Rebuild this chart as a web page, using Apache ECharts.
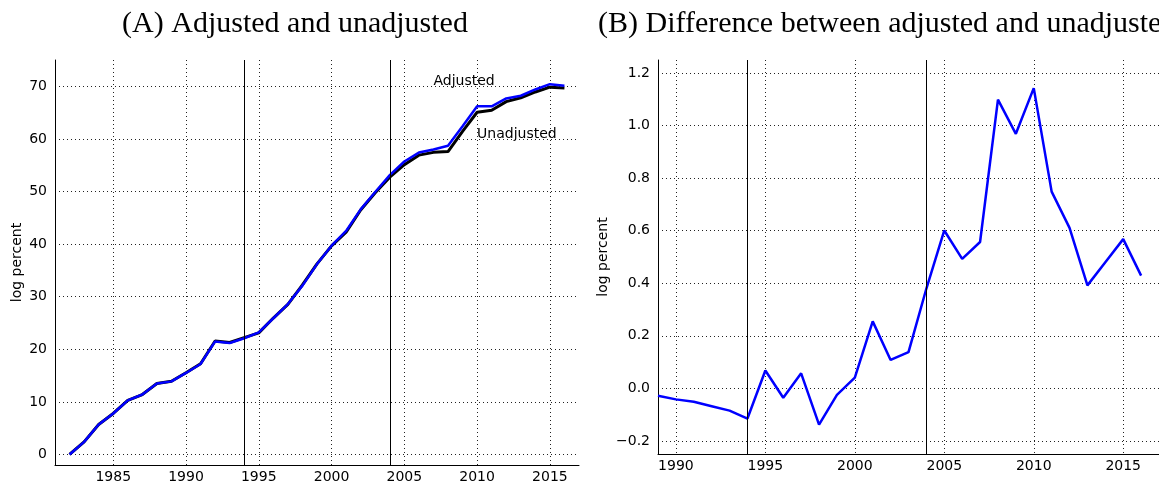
<!DOCTYPE html>
<html><head><meta charset="utf-8">
<script src="https://cdn.jsdelivr.net/npm/echarts@6/dist/echarts.min.js"></script>
<style>html,body{margin:0;padding:0;background:#fff}#c{width:1159px;height:484px}</style>
</head><body><div id="c"></div>
<script>
// ---- data ----
const years = [1982,1983,1984,1985,1986,1987,1988,1989,1990,1991,1992,1993,1994,1995,1996,1997,1998,1999,2000,2001,2002,2003,2004,2005,2006,2007,2008,2009,2010,2011,2012,2013,2014,2015,2016];
const adjusted = [0,2.4,5.7,7.8,10.3,11.4,13.5,13.9,15.5,17.2,21.5,21.2,22.1,23.2,25.9,28.6,32.1,36.2,39.7,42.5,46.6,49.9,53.1,55.7,57.4,58.0,58.7,62.4,66.2,66.2,67.7,68.2,69.4,70.4,70.1];
const unadjusted = [0,2.4,5.7,7.8,10.3,11.4,13.5,13.93,15.54,17.25,21.57,21.29,22.22,23.13,25.94,28.54,32.24,36.23,39.66,42.25,46.49,49.76,52.72,55.1,56.91,57.44,57.6,61.43,65.06,65.45,67.09,67.81,68.92,69.83,69.67];
const diffYears = [1989,1990,1991,1992,1993,1994,1995,1996,1997,1998,1999,2000,2001,2002,2003,2004,2005,2006,2007,2008,2009,2010,2011,2012,2013,2014,2015,2016];
const difference = [-0.028,-0.042,-0.051,-0.068,-0.085,-0.115,0.068,-0.036,0.057,-0.138,-0.025,0.041,0.255,0.108,0.138,0.38,0.601,0.493,0.557,1.099,0.969,1.143,0.749,0.611,0.392,0.48,0.568,0.429];
const breakYears = [1994, 2004];
const xTicksA = [1985,1990,1995,2000,2005,2010,2015];
const yTicksA = [0,10,20,30,40,50,60,70];
const xTicksB = [1990,1995,2000,2005,2010,2015];
const yTicksB = [-0.2,0,0.2,0.4,0.6,0.8,1.0,1.2];
const titleA = '(A) Adjusted and unadjusted';
const titleB = '(B) Difference between adjusted and unadjusted';
const labelAdj = {text:'Adjusted', x:2007, y:70};
const labelUnadj = {text:'Unadjusted', x:2010, y:60};

const pairs = (xs, ys) => xs.map((x,i)=>[x, ys[i]]);
const sans = 'DejaVu Sans';
const gridLine = {show:true, lineStyle:{color:'#222', width:1, type:[1,3]}};
const axisLineStyle = {show:true, onZero:false, lineStyle:{color:'#000', width:1}};
const minus = v => (v<0?'\u2212':'') + Math.abs(v).toFixed(1);

const chart = echarts.init(document.getElementById('c'));
const vlines = breakYears.map(y=>({xAxis:y}));
chart.setOption({
  animation:false,
  grid:[
    {left:55, right:580, top:60, bottom:18},
    {left:658, right:-7, top:60, bottom:30}
  ],
  xAxis:[
    {type:'value', gridIndex:0, min:1981, max:2017, axisLine:axisLineStyle,
     axisTick:{show:false, customValues:xTicksA},
     axisLabel:{customValues:xTicksA, color:'#000', fontFamily:sans, fontSize:14, margin:5, formatter:v=>String(v)},
     splitLine:gridLine},
    {type:'value', gridIndex:1, min:1989, max:2017, axisLine:axisLineStyle,
     axisTick:{show:false, customValues:xTicksB},
     axisLabel:{customValues:xTicksB, color:'#000', fontFamily:sans, fontSize:14, margin:5, formatter:v=>String(v)},
     splitLine:gridLine}
  ],
  yAxis:[
    {type:'value', gridIndex:0, min:-2, max:75, axisLine:axisLineStyle,
     axisTick:{show:false, customValues:yTicksA},
     axisLabel:{customValues:yTicksA, color:'#000', fontFamily:sans, fontSize:14, margin:8},
     splitLine:gridLine,
     name:'log percent', nameLocation:'middle', nameRotate:90, nameGap:31,
     nameTextStyle:{fontFamily:sans, fontSize:14, color:'#000'}},
    {type:'value', gridIndex:1, min:-0.25, max:1.25, axisLine:axisLineStyle,
     axisTick:{show:false, customValues:yTicksB},
     axisLabel:{customValues:yTicksB, color:'#000', fontFamily:sans, fontSize:14, margin:8, formatter:minus},
     splitLine:gridLine,
     name:'log percent', nameLocation:'middle', nameRotate:90, nameGap:48,
     nameTextStyle:{fontFamily:sans, fontSize:14, color:'#000'}}
  ],
  series:[
    {type:'line', xAxisIndex:0, yAxisIndex:0, data:pairs(years, unadjusted), symbol:'none', z:3,
     lineStyle:{color:'#000', width:3}},
    {type:'line', xAxisIndex:0, yAxisIndex:0, data:pairs(years, adjusted), symbol:'none', z:4,
     lineStyle:{color:'#0000ff', width:2.5},
     markLine:{silent:true, symbol:'none', label:{show:false}, lineStyle:{color:'#000', width:1, type:'solid'}, data:vlines}},
    {type:'line', xAxisIndex:1, yAxisIndex:1, data:pairs(diffYears, difference), symbol:'none', z:4,
     lineStyle:{color:'#0000ff', width:2.5},
     markLine:{silent:true, symbol:'none', label:{show:false}, lineStyle:{color:'#000', width:1, type:'solid'}, data:vlines}}
  ]
});
const pA = chart.convertToPixel({gridIndex:0}, [labelAdj.x, labelAdj.y]);
const pU = chart.convertToPixel({gridIndex:0}, [labelUnadj.x, labelUnadj.y]);
chart.setOption({
  graphic:[
    {type:'text', x:295, y:24, style:{text:titleA, font:'30px "Liberation Serif"', fill:'#000', align:'center', verticalAlign:'middle'}},
    {type:'text', x:598, y:24, style:{text:titleB, font:'30px "Liberation Serif"', fill:'#000', align:'left', verticalAlign:'middle'}},
    {type:'text', x:pA[0], y:pA[1]-4.5, z:10, style:{text:labelAdj.text, font:'14px "DejaVu Sans"', fill:'#000', align:'left', verticalAlign:'middle'}},
    {type:'text', x:pU[0], y:pU[1]-4.5, z:10, style:{text:labelUnadj.text, font:'14px "DejaVu Sans"', fill:'#000', align:'left', verticalAlign:'middle'}}
  ]
});
</script></body></html>
